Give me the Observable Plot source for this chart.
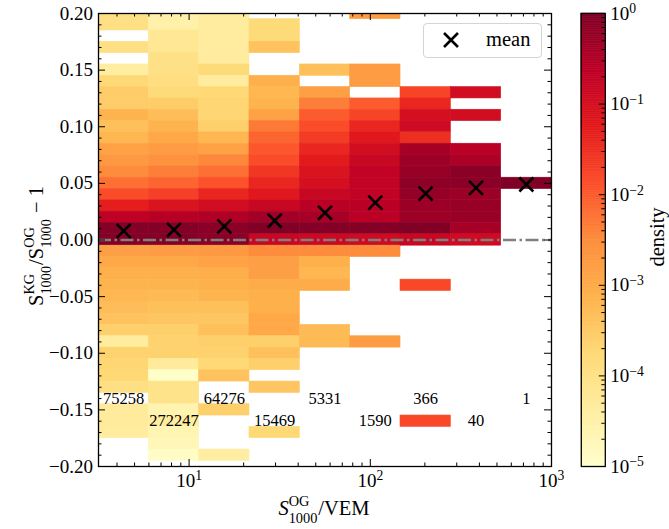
<!DOCTYPE html>
<html>
<head>
<meta charset="utf-8">
<script src="https://cdn.jsdelivr.net/npm/d3@7"></script>
<script src="https://cdn.jsdelivr.net/npm/@observablehq/plot@0.6"></script>
<style>
  body { margin: 0; background: #fff; }
  #chart { position: relative; width: 669px; height: 529px; display: flex; }
  #legend { position: absolute; left: 423px; top: 23px; width: 117px; height: 33px;
            border: 1px solid #d4d4d4; border-radius: 4px; background: rgba(255,255,255,0.85); }
</style>
</head>
<body>
<div id="chart"></div>
<script>
// ---- data -------------------------------------------------------------
// Logarithmic bins in S1000(OG) / VEM
const xBinEdges = [3.162, 5.995, 11.36, 21.54, 40.84, 77.43, 146.8, 278.3, 527.5, 1000];
// Centres of the relative-difference bins (width 0.01), top to bottom
const yBinCenters = [
  0.20, 0.19, 0.18, 0.17, 0.16, 0.15, 0.14, 0.13, 0.12, 0.11,
  0.10, 0.09, 0.08, 0.07, 0.06, 0.05, 0.04, 0.03, 0.02, 0.01,
  0.00, -0.01, -0.02, -0.03, -0.04, -0.05, -0.06, -0.07, -0.08, -0.09,
  -0.10, -0.11, -0.12, -0.13, -0.14, -0.15, -0.16, -0.17, -0.18, -0.19,
  -0.20
];
// log10(density) per column of the histogram, same order as yBinCenters; null = empty
const logDensityBin1 = [
  -3.95, -3.95, null, -3.95, null, -4.4, -3.75, -3.55, -3.55, -3.15,
  -3.35, -3.2, -2.85, -2.7, -2.5, -2.2, -1.85, -1.3, -0.65, -0.05,
  -0.05, -2.8, -2.95, -3.1, -3.15, -3.2, -3.3, -3.4, -3.6, -4.35,
  -3.65, -3.7, -3.75, -3.95, null, -4.3, -4.3, -4.35, null, null,
  null
];
const logDensityBin2 = [
  -4.5, -4.5, -4.2, -4.2, -4.0, -4.0, -3.9, -3.8, -3.55, -3.3,
  -3.15, -2.95, -2.75, -2.6, -2.35, -2.1, -1.7, -1.1, -0.55, -0.05,
  -0.05, -2.75, -2.95, -3.1, -3.15, -3.25, -3.35, -3.45, -3.6, -3.65,
  -3.65, -4.3, -4.95, -4.05, -4.05, -4.6, -4.4, -4.65, -4.7, -4.9,
  null
];
const logDensityBin3 = [
  -4.35, -4.35, -4.35, -4.35, -4.35, -3.8, -4.35, -3.75, -3.7, -3.7,
  -3.6, -3.2, -2.85, -2.45, -2.2, -1.9, -1.4, -0.95, -0.5, -0.1,
  -0.1, -2.7, -2.85, -3.05, -3.1, -3.15, -3.35, -3.45, -3.35, -3.6,
  -3.65, -3.75, -3.4, null, null, -3.6, null, null, null, -4.4,
  null
];
const logDensityBin4 = [
  null, -3.8, -3.8, -3.4, null, null, -3.1, -3.2, -3.15, -2.85,
  -2.3, -2.1, -1.95, -1.85, -1.6, -1.4, -1.2, -0.8, -0.35, 0,
  -0.8, -2.5, -2.8, -2.8, -3.0, -3.1, -3.1, -2.95, -2.95, -3.6,
  -3.35, -3.6, null, -3.45, null, null, null, -3.75, null, null,
  null
];
const logDensityBin5 = [
  null, null, null, null, null, -3.35, null, -2.8, -2.35, -2.0,
  -1.85, -1.65, -1.4, -1.25, -1.1, -1.0, -0.8, -0.6, -0.4, -0.05,
  -0.85, -2.5, -3.1, -3.2, -3.0, null, null, null, -3.25, -3.25,
  null, null, null, null, null, null, null, null, null, null,
  null
];
const logDensityBin6 = [
  -2.75, null, null, null, null, -2.75, -2.75, null, -2.0, -1.75,
  -1.4, -1.2, -0.95, -0.8, -0.7, -0.7, -0.7, -0.6, -0.6, -0.05,
  -0.9, -2.5, null, null, null, null, null, null, null, -2.75,
  null, null, null, null, null, null, null, null, null, null,
  null
];
const logDensityBin7 = [
  null, null, null, null, null, null, null, -1.75, -1.4, -1.0,
  -0.9, -1.5, -0.4, -0.3, -0.25, -0.15, -0.2, -0.3, -0.3, 0,
  -0.8, null, null, null, -1.8, null, null, null, null, null,
  null, null, null, null, null, null, -1.8, null, null, null,
  null
];
const logDensityBin8 = [
  null, null, null, null, null, null, null, -0.95, null, -0.95,
  null, null, -0.6, -0.45, -0.1, -0.1, -0.3, -0.25, -0.25, -0.4,
  -0.9, null, null, null, null, null, null, null, null, null,
  null, null, null, null, null, null, null, null, null, null,
  null
];
const logDensityBin9 = [
  null, null, null, null, null, null, null, null, null, null,
  null, null, null, null, null, 0, null, null, null, null,
  null, null, null, null, null, null, null, null, null, null,
  null, null, null, null, null, null, null, null, null, null,
  null
];
// Number of events in each S1000 bin
const eventCounts = [75258, 272247, 64276, 15469, 5331, 1590, 366, 40, 1];
// Mean of S1000(KG)/S1000(OG) - 1 in each S1000 bin
const meanRelDiff = [0.008, 0.009, 0.012, 0.017, 0.024, 0.033, 0.041, 0.046, 0.049];

// Tick values
const xMajor = [10, 100, 1000];
const yMajor = [-0.2, -0.15, -0.1, -0.05, 0, 0.05, 0.1, 0.15, 0.2];
const cbMajor = [1e-5, 1e-4, 1e-3, 1e-2, 1e-1, 1];

// ---- styling -----------------------------------------------------------
const FONT = "'Liberation Serif', 'DejaVu Serif', serif";
const YLORRD = ["#ffffcc", "#ffeda0", "#fed976", "#feb24c", "#fd8d3c",
                "#fc4e2a", "#e31a1c", "#bd0026", "#800026"];
const colorScale = {type: "log", domain: [1e-5, 1], clamp: true,
                    interpolate: d3.piecewise(d3.interpolateRgb, YLORRD)};

// ---- derived structures --------------------------------------------------
const columns = [logDensityBin1, logDensityBin2, logDensityBin3, logDensityBin4, logDensityBin5,
                 logDensityBin6, logDensityBin7, logDensityBin8, logDensityBin9];
const yHalf = 0.005;
const cells = columns.flatMap((col, i) =>
  col.flatMap((v, k) => v === null ? [] : [{
    x1: xBinEdges[i], x2: xBinEdges[i + 1],
    y1: yBinCenters[k] - yHalf, y2: yBinCenters[k] + yHalf,
    density: Math.pow(10, v)
  }])
);
const binCenters = xBinEdges.slice(0, -1).map((e, i) => Math.sqrt(e * xBinEdges[i + 1]));

const xMinor = [];
for (const dec of [1, 10, 100]) for (let m = 2; m <= 9; m++) {
  const v = m * dec;
  if (v > xBinEdges[0] && !xMajor.includes(v)) xMinor.push(v);
}
const yMinor = d3.range(-20, 21).filter(k => k % 5 !== 0).map(k => k / 100);
const cbMinor = [];
for (let e = -5; e < 0; e++) for (let m = 2; m <= 9; m++) cbMinor.push(m * Math.pow(10, e));

const expLabel = d => "10^" + String(Math.round(Math.log10(d))).replace("-", "\u2212");

// ---- main histogram ------------------------------------------------------
const W = 566, H = 529, ML = 98, MR = 15, MT = 13, MB = 63;
const FW = W - ML - MR, FH = H - MT - MB;
const MAJ = 7, MIN = 3.5;

const main = Plot.plot({
  width: W, height: H,
  marginLeft: ML, marginRight: MR, marginTop: MT, marginBottom: MB,
  x: {type: "log", domain: [xBinEdges[0], 1000]},
  y: {domain: [-0.2, 0.2]},
  color: colorScale,
  style: {fontFamily: FONT, background: "white", color: "black", overflow: "visible"},
  marks: [
    Plot.rect(cells, {x1: "x1", x2: "x2", y1: "y1", y2: "y2",
                      fill: "density", stroke: "density", strokeWidth: 0.6, clip: true}),
    Plot.ruleY([0], {stroke: "#808080", strokeWidth: 2.6, strokeDasharray: "13,3.5,2.5,3.5"}),
    Plot.dot(meanRelDiff, {x: (d, i) => binCenters[i], y: d => d, symbol: "times",
                           r: 6.4, stroke: "black", strokeWidth: 2.6}),
    Plot.text(eventCounts, {x: (d, i) => binCenters[i], y: (d, i) => (i % 2 ? -0.16 : -0.14),
                            text: d => String(d), fontSize: 16.5, fill: "black"}),
    Plot.frame({stroke: "black", strokeWidth: 1.3}),
    Plot.tickX(xMajor, {x: d => d, insetTop: FH - MAJ, stroke: "black"}),
    Plot.tickX(xMajor, {x: d => d, insetBottom: FH - MAJ, stroke: "black"}),
    Plot.tickX(xMinor, {x: d => d, insetTop: FH - MIN, stroke: "black"}),
    Plot.tickX(xMinor, {x: d => d, insetBottom: FH - MIN, stroke: "black"}),
    Plot.tickY(yMajor, {y: d => d, insetRight: FW - MAJ, stroke: "black"}),
    Plot.tickY(yMajor, {y: d => d, insetLeft: FW - MAJ, stroke: "black"}),
    Plot.tickY(yMinor, {y: d => d, insetRight: FW - MIN, stroke: "black"}),
    Plot.tickY(yMinor, {y: d => d, insetLeft: FW - MIN, stroke: "black"}),
    Plot.axisX({ticks: xMajor, tickSize: 0, tickPadding: 6.5, tickFormat: expLabel,
                fontSize: 19, label: null}),
    Plot.axisY({ticks: yMajor, tickSize: 0, tickPadding: 5.5, tickFormat: d3.format(".2f"),
                fontSize: 19, label: null})
  ]
});

// ---- colour bar ----------------------------------------------------------
const CW = 103, CL = 14.8, CBW = 24;
const rampSteps = d3.range(0, 250);
const ramp = rampSteps.map(i => ({
  y1: Math.pow(10, -5 + 5 * i / 250),
  y2: Math.pow(10, -5 + 5 * (i + 1) / 250),
  mid: Math.pow(10, -5 + 5 * (i + 0.5) / 250)
}));
const cbar = Plot.plot({
  width: CW, height: H,
  marginLeft: CL, marginRight: CW - CL - CBW, marginTop: MT, marginBottom: MB,
  x: {domain: [0, 1], axis: null},
  y: {type: "log", domain: [1e-5, 1]},
  color: colorScale,
  style: {fontFamily: FONT, background: "white", color: "black", overflow: "visible"},
  marks: [
    Plot.rect(ramp, {x1: 0, x2: 1, y1: "y1", y2: "y2", fill: "mid", stroke: "mid", strokeWidth: 0.6}),
    Plot.frame({stroke: "black", strokeWidth: 1.3}),
    Plot.tickY(cbMajor, {y: d => d, insetLeft: CBW - 6, stroke: "black"}),
    Plot.tickY(cbMinor, {y: d => d, insetLeft: CBW - 3.5, stroke: "black"}),
    Plot.axisY({anchor: "right", ticks: cbMajor, tickSize: 0, tickPadding: 5,
                tickFormat: expLabel, fontSize: 19, label: null})
  ]
});

const chart = document.getElementById("chart");
chart.append(main, cbar);

// ---- text helpers --------------------------------------------------------
// Turn "10^k" tick labels into a base with a raised exponent
function raiseExponents(svg, axisLabel) {
  d3.select(svg).selectAll(`g[aria-label="${axisLabel}"] text`).each(function () {
    const s = this.textContent;
    const idx = s.indexOf("^");
    if (idx < 0) return;
    const t = d3.select(this);
    t.text(null);
    t.append("tspan").text(s.slice(0, idx));
    t.append("tspan").attr("dy", "-0.45em").attr("font-size", "0.72em").text(s.slice(idx + 1));
  });
}
raiseExponents(main, "x-axis tick label");
raiseExponents(cbar, "y-axis tick label");

// Math-style label: pieces are plain text or stacked superscript/subscript pairs
function mathLabel(svg, {x, y, rotate = 0, size, parts}) {
  const outer = d3.select(svg).append("g")
    .attr("transform", `translate(${x},${y}) rotate(${rotate})`)
    .attr("font-family", FONT).attr("fill", "black").attr("text-anchor", "start");
  const g = outer.append("g");
  let cx = 0;
  const small = size * 0.7;
  for (const p of parts) {
    if (p.sup !== undefined) {
      const a = g.append("text").attr("x", cx).attr("y", -0.42 * size).attr("font-size", small).text(p.sup);
      const b = g.append("text").attr("x", cx).attr("y", 0.38 * size).attr("font-size", small).text(p.sub);
      cx += Math.max(a.node().getComputedTextLength(), b.node().getComputedTextLength()) + 1;
    } else {
      const t = g.append("text").attr("x", cx).attr("y", 0).attr("font-size", size)
        .attr("font-style", p.italic ? "italic" : null)
        .style("white-space", "pre").text(p.text);
      cx += t.node().getComputedTextLength();
    }
  }
  g.attr("transform", `translate(${-cx / 2},0)`);
}

mathLabel(main, {x: 324, y: 515, size: 20.5, parts: [
  {text: "S", italic: true}, {sup: "OG", sub: "1000"}, {text: "/VEM"}
]});
mathLabel(main, {x: 43, y: 246, rotate: -90, size: 20.5, parts: [
  {text: "S"}, {sup: "KG", sub: "1000"}, {text: "/"}, {text: "S"}, {sup: "OG", sub: "1000"},
  {text: " \u2212 1"}
]});

// Colour bar title
d3.select(cbar).append("text")
  .attr("transform", `translate(${664 - W},${237}) rotate(-90)`)
  .attr("text-anchor", "middle").attr("font-family", FONT).attr("font-size", 20.5)
  .attr("fill", "black").text("density");

// ---- legend --------------------------------------------------------------
const legend = d3.select(chart).append("div").attr("id", "legend");
const lsvg = legend.append("svg").attr("width", 117).attr("height", 33);
lsvg.append("path")
  .attr("transform", "translate(27,16)")
  .attr("d", d3.symbol(d3.symbolTimes, Math.PI * 6.4 * 6.4)())
  .attr("fill", "none").attr("stroke", "black").attr("stroke-width", 2.6);
lsvg.append("text").attr("x", 62).attr("y", 22)
  .attr("font-family", FONT).attr("font-size", 20.5).attr("fill", "black").text("mean");
</script>
</body>
</html>
